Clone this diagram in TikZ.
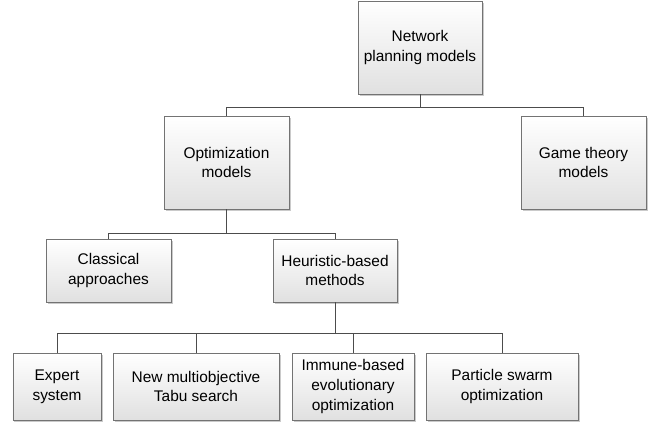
\documentclass[tikz,border=0pt]{standalone}
\usepackage{fontspec}
\setmainfont{Liberation Sans}
\usetikzlibrary{shadows}

\tikzset{
  box/.style={draw=black!55, line width=0.8pt, top color=white, bottom color=black!12,
    align=center, inner sep=2pt, font=\fontsize{15.5}{20}\selectfont,
    drop shadow={shadow xshift=1.5bp, shadow yshift=-1.5bp, fill=black!35, opacity=0.6}},
  link/.style={draw=black!70, line width=0.8pt}
}

\begin{document}
\begin{tikzpicture}[x=1bp,y=-1bp]
\useasboundingbox (0,0) rectangle (655,423);

% Top level and the two model families
\node[box, minimum width=124bp, minimum height=93bp] (net) at (420,47.5) {Network\\planning models};
\node[box, minimum width=125bp, minimum height=93bp] (opt) at (226.5,162.5) {Optimization\\models};
\node[box, minimum width=125bp, minimum height=93bp] (game) at (583.5,162.5) {Game theory\\models};

% Optimization approaches
\node[box, minimum width=125bp, minimum height=63bp] (class) at (108.5,270.5) {Classical\\approaches};
\node[box, minimum width=124bp, minimum height=63bp] (heur) at (335,270.5) {Heuristic-based\\methods};

% Heuristic methods
\node[box, minimum width=88bp, minimum height=67bp] (expert) at (57,386.5) {Expert\\system};
\node[box, minimum width=166bp, minimum height=67bp] (tabu) at (196,386.5) {New multiobjective\\Tabu search};
\node[box, minimum width=122bp, minimum height=67bp] (immune) at (353,386.5) {Immune-based\\evolutionary\\optimization};
\node[box, minimum width=152bp, minimum height=67bp] (pso) at (502,386.5) {Particle swarm\\optimization};

% Bus lines between the levels
\coordinate (bus1) at (0,107);
\coordinate (bus2) at (0,233);
\coordinate (bus3) at (0,333);

\draw[link] (net.south) -- (net.south |- bus1) -| (opt.north);
\draw[link] (net.south) -- (net.south |- bus1) -| (game.north);

\draw[link] (opt.south) -- (opt.south |- bus2) -| (class.north);
\draw[link] (opt.south) -- (opt.south |- bus2) -| (heur.north);

\draw[link] (heur.south) -- (heur.south |- bus3) -| (expert.north);
\draw[link] (heur.south) -- (heur.south |- bus3) -| (tabu.north);
\draw[link] (heur.south) -- (heur.south |- bus3) -| (immune.north);
\draw[link] (heur.south) -- (heur.south |- bus3) -| (pso.north);
\end{tikzpicture}
\end{document}
